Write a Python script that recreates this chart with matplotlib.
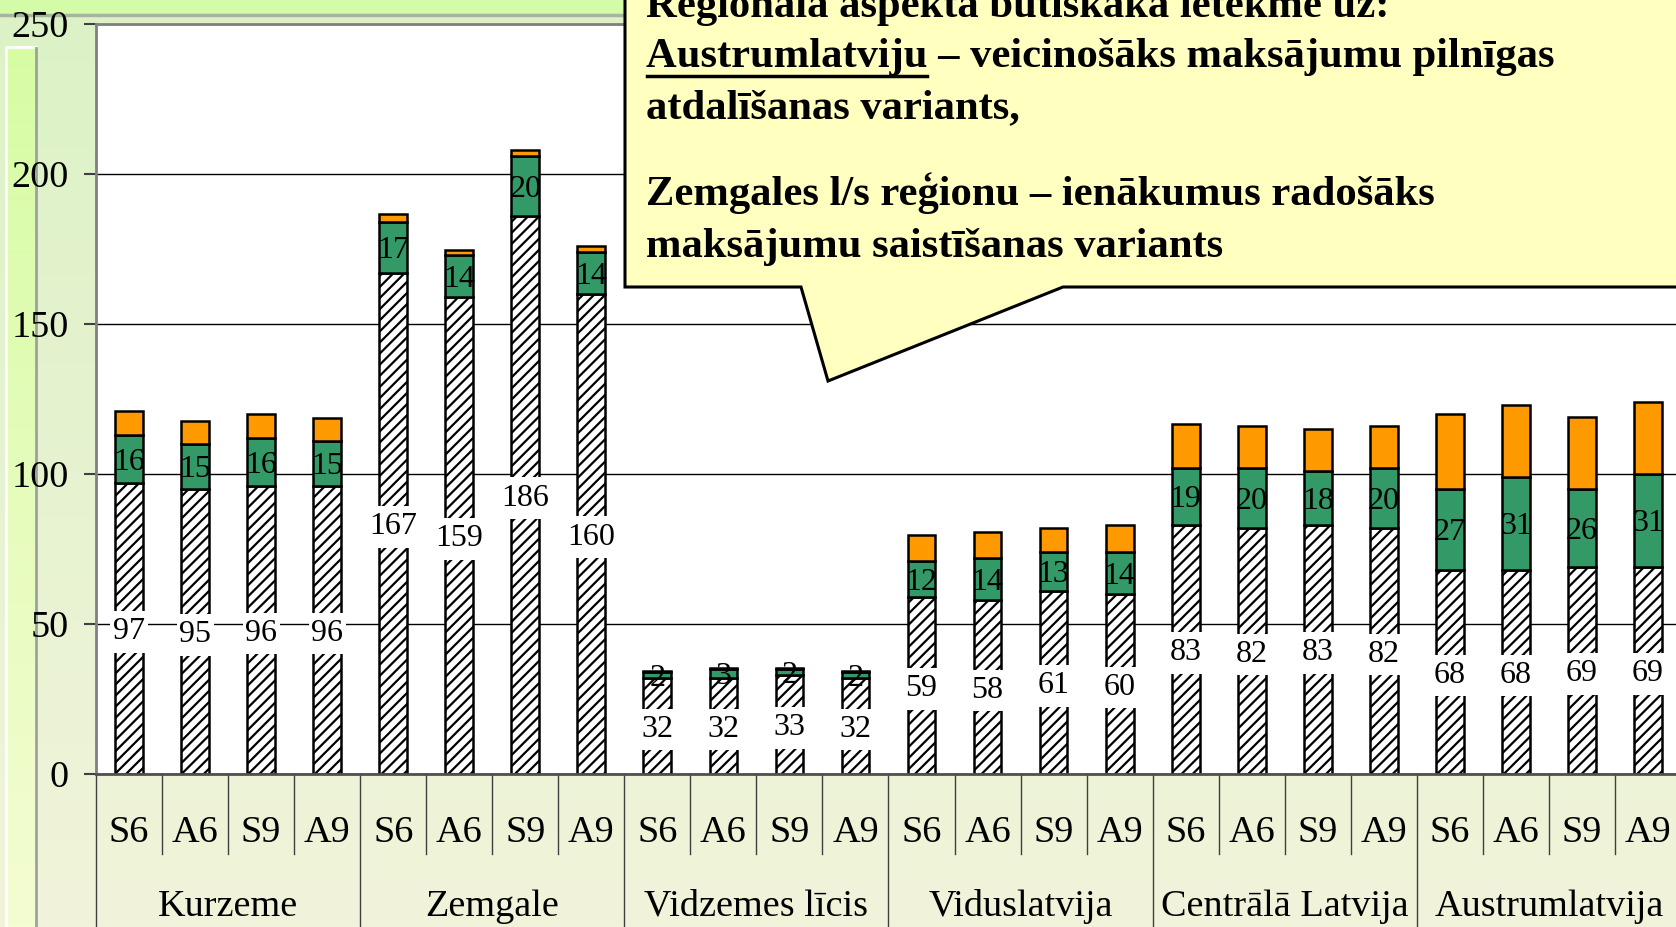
import numpy as np
import matplotlib
matplotlib.use("Agg")
import matplotlib.pyplot as plt
from matplotlib.patches import Polygon, Rectangle
from matplotlib.path import Path
from matplotlib.transforms import blended_transform_factory

plt.rcParams["font.family"] = ["Liberation Serif", "DejaVu Serif"]
plt.rcParams["hatch.linewidth"] = 1.6

regions = ["Kurzeme", "Zemgale", "Vidzemes līcis", "Viduslatvija",
           "Centrālā Latvija", "Austrumlatvija"]
variants = ["S6", "A6", "S9", "A9"]

base = [97, 95, 96, 96, 167, 159, 186, 160, 32, 32, 33, 32,
        59, 58, 61, 60, 83, 82, 83, 82, 68, 68, 69, 69]
green = [16, 15, 16, 15, 17, 14, 20, 14, 2, 3, 2, 2,
         12, 14, 13, 14, 19, 20, 18, 20, 27, 31, 26, 31]
orange = [8, 7.5, 8, 7.5, 2.5, 1.5, 2, 2, 0.4, 0.4, 0.4, 0.4,
          8.5, 8.5, 8, 9, 14.5, 14, 14, 14, 25, 24, 24, 24]

callout_lines = [
    "Reģionālā aspektā būtiskākā ietekme uz:",
    "Austrumlatviju – veicinošāks maksājumu pilnīgas",
    "atdalīšanas variants,",
    "Zemgales l/s reģionu – ienākumus radošāks",
    "maksājumu saistīšanas variants",
]
underlined = "Austrumlatviju"

W, H = 1676, 927
fig = plt.figure(figsize=(W / 100, H / 100), dpi=100)


def vgrad(c1, c2, n=256):
    c1 = np.array(matplotlib.colors.to_rgb(c1))
    c2 = np.array(matplotlib.colors.to_rgb(c2))
    t = np.linspace(0, 1, n)[:, None]
    return (c1 * (1 - t) + c2 * t)[:, None, :]


def tall_box(x0, y0, width, height, mutation_size):
    # white label box: little side padding, more above/below
    px = 0.08 * mutation_size
    py = 0.2 * mutation_size
    return Path([(x0 - px, y0 - py), (x0 + width + px, y0 - py),
                 (x0 + width + px, y0 + height + py), (x0 - px, y0 + height + py),
                 (x0 - px, y0 - py)], closed=True)


# background of the slide / chart area
bg = fig.add_axes([0, 0, 1, 1], zorder=-10)
bg.set_xlim(0, W)
bg.set_ylim(H, 0)
bg.axis("off")
bg.imshow(vgrad("#dcf2c6", "#f1f4da"), extent=(0, W, H, 15), aspect="auto")
bg.add_patch(Rectangle((0, 0), W, 14, color="#d4fca8"))
bg.plot([0, W], [15, 15], color="#a9b3a0", lw=2.5)
bg.imshow(vgrad("#d6fca4", "#f4fcd2"), extent=(6, 36, H, 47), aspect="auto")
bg.plot([6, 6, 36], [H, 47, 47], color="white", lw=2)
bg.plot([36, 36], [48, H], color="#a0a0a0", lw=2)

# main chart
ax = fig.add_axes([96 / W, 1 - 774 / H, 1585 / W, 750.5 / H], zorder=1)
x = np.arange(len(base))
bw = 0.42
b = np.array(base)
g = np.array(green)
o = np.array(orange)
ax.bar(x, b, bw, color="white", edgecolor="black", hatch="///", lw=1.8, zorder=2)
ax.bar(x, g, bw, bottom=b, color="#339966", edgecolor="black", lw=1.8, zorder=2)
ax.bar(x, o, bw, bottom=b + g, color="#ff9900", edgecolor="black", lw=1.8, zorder=2)

for i in x:
    ax.text(i, b[i] / 2, str(b[i]), ha="center", va="center_baseline", fontsize=23,
            bbox=dict(boxstyle=tall_box, fc="white", ec="none"), zorder=4)
    ax.text(i, b[i] + g[i] / 2, str(g[i]), ha="center", va="center_baseline",
            fontsize=23, zorder=4)

ax.set_xlim(-0.5, len(base) - 0.5)
ax.set_ylim(0, 250)
ax.set_yticks(range(0, 251, 50))
ax.yaxis.grid(True, color="black", lw=1)
ax.set_axisbelow(True)
ax.set_xticks([])
ax.tick_params(axis="y", labelsize=27.5, length=8.6, width=1.5,
               color="#404040", pad=11)
for side in ["left", "top", "bottom"]:
    ax.spines[side].set_color("#808080")
    ax.spines[side].set_linewidth(2)
ax.spines["bottom"].set_color("#505050")
ax.spines["right"].set_visible(False)

# two-level category axis
trans = blended_transform_factory(ax.transData, ax.transAxes)
for i in x:
    ax.text(i, -0.0733, variants[i % 4], transform=trans, ha="center",
            va="center_baseline", fontsize=27.5)
for k, name in enumerate(regions):
    ax.text(4 * k + 1.5, -0.171, name, transform=trans, ha="center",
            va="center_baseline", fontsize=27.5)
for k in range(len(base) + 1):
    y1 = -0.3 if k % 4 == 0 else -0.1066
    ax.plot([k - 0.5, k - 0.5], [0, y1], transform=trans, clip_on=False,
            color="#404040", lw=1)

# callout
ov = fig.add_axes([0, 0, 1, 1], zorder=5)
ov.set_xlim(0, W)
ov.set_ylim(H, 0)
ov.axis("off")
ov.patch.set_alpha(0)
ov.add_patch(Polygon([(625, -10), (625, 287), (801, 287), (828, 381),
                      (1063, 287), (W + 20, 287), (W + 20, -10)],
                     closed=True, fc="#ffffc0", ec="black", lw=2.2))
baselines = [17, 67, 118, 205, 257]
tx = 646
for line, yb in zip(callout_lines, baselines):
    ov.text(tx, yb, line, fontsize=30.7, fontweight="bold", va="baseline", ha="left")

renderer = fig.canvas.get_renderer()
meas = ov.text(tx, baselines[1], underlined, fontsize=30.7, fontweight="bold",
               va="baseline", ha="left")
ext = meas.get_window_extent(renderer)
meas.remove()
x0, _ = ov.transData.inverted().transform((ext.x0, ext.y0))
x1, _ = ov.transData.inverted().transform((ext.x1, ext.y0))
ov.plot([x0 + 1, x1 - 1], [76, 76], color="black", lw=2.5)

fig.savefig("out.png", dpi=100)
